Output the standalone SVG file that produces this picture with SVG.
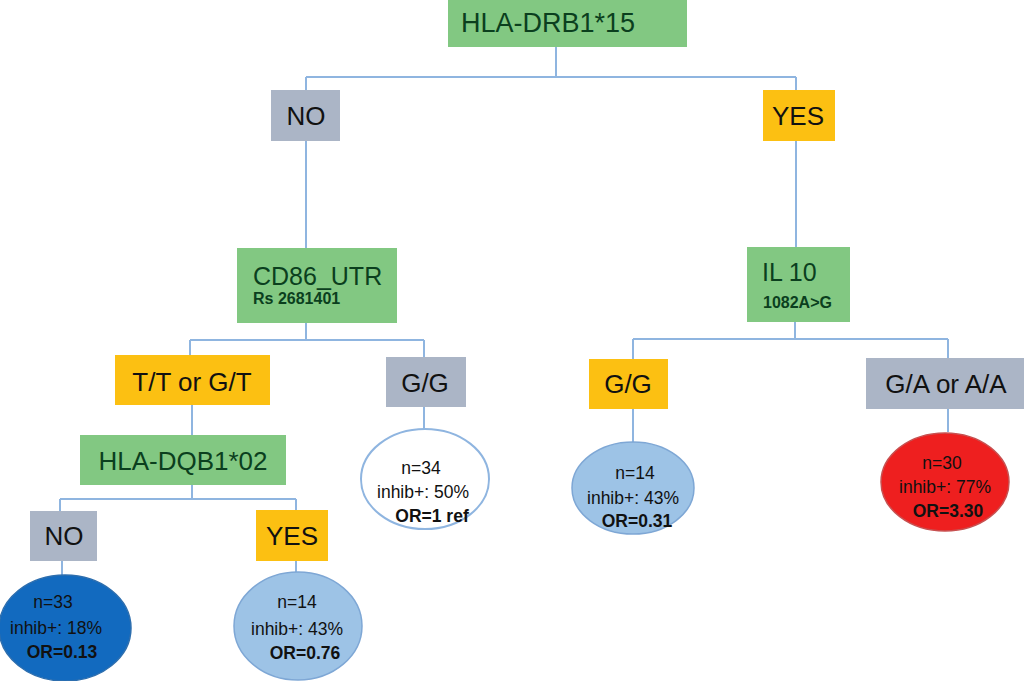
<svg xmlns="http://www.w3.org/2000/svg" width="1024" height="681" viewBox="0 0 1024 681">
<style>
.green{fill:#82c882}
.gray{fill:#abb5c6}
.yellow{fill:#fcc012}
.gt{font-family:"Liberation Sans",Arial,sans-serif;fill:#0b3f1e}
.sub{font-weight:bold;font-size:16px}
.bt{font-family:"Liberation Sans",Arial,sans-serif;fill:#111;font-size:26px}
.et{font-family:"Liberation Sans",Arial,sans-serif;fill:#111;font-size:17.5px;text-anchor:middle}
.eb{font-weight:bold}
.conn line{stroke:#8fb5e0;stroke-width:2;fill:none}
</style>
<rect width="1024" height="681" fill="#ffffff"/>
<g class="conn" id="connectors">
<line x1="556" y1="47" x2="556" y2="77"/>
<line x1="306" y1="77" x2="796" y2="77"/>
<line x1="306" y1="77" x2="306" y2="90"/>
<line x1="796" y1="77" x2="796" y2="90"/>
<line x1="306" y1="141" x2="306" y2="248"/>
<line x1="796" y1="141" x2="796" y2="247"/>
<line x1="306" y1="323" x2="306" y2="340"/>
<line x1="190" y1="340" x2="424" y2="340"/>
<line x1="190" y1="340" x2="190" y2="355"/>
<line x1="424" y1="340" x2="424" y2="357"/>
<line x1="795" y1="322" x2="795" y2="339"/>
<line x1="633" y1="339" x2="948" y2="339"/>
<line x1="633" y1="339" x2="633" y2="359"/>
<line x1="948" y1="339" x2="948" y2="358"/>
<line x1="192" y1="405" x2="192" y2="435"/>
<line x1="192" y1="485" x2="192" y2="499"/>
<line x1="60" y1="499" x2="296" y2="499"/>
<line x1="60" y1="499" x2="60" y2="511"/>
<line x1="296" y1="499" x2="296" y2="510"/>
<line x1="424" y1="407" x2="424" y2="430"/>
<line x1="633" y1="409" x2="633" y2="443"/>
<line x1="948" y1="409" x2="948" y2="432"/>
<line x1="62" y1="561" x2="62" y2="576"/>
<line x1="296" y1="561" x2="296" y2="572"/>
</g>
<g id="hla-drb1">
<rect class="green" x="448" y="0" width="239" height="47"/>
<text class="gt" x="548" y="32" font-size="27" text-anchor="middle">HLA-DRB1*15</text>
</g>
<g id="no-top">
<rect class="gray" x="271" y="90" width="69" height="51"/>
<text class="bt" x="306" y="125" text-anchor="middle" font-size="27">NO</text>
</g>
<g id="yes-top">
<rect class="yellow" x="763" y="90" width="72" height="51"/>
<text class="bt" x="798" y="125" text-anchor="middle" font-size="27">YES</text>
</g>
<g id="cd86">
<rect class="green" x="237" y="248" width="160" height="75"/>
<text class="gt" x="253" y="285" font-size="25">CD86_UTR</text>
<text class="gt sub" x="253" y="304">Rs 2681401</text>
</g>
<g id="il10">
<rect class="green" x="747" y="247" width="103" height="75"/>
<text class="gt" x="762" y="281" font-size="25">IL 10</text>
<text class="gt sub" x="763" y="308">1082A&gt;G</text>
</g>
<g id="tt-gt">
<rect class="yellow" x="115" y="355" width="155" height="50"/>
<text class="bt" x="192" y="391" text-anchor="middle">T/T or G/T</text>
</g>
<g id="gg-left">
<rect class="gray" x="386" y="357" width="80" height="50"/>
<text class="bt" x="425" y="392" text-anchor="middle">G/G</text>
</g>
<g id="gg-right">
<rect class="yellow" x="589" y="359" width="79" height="50"/>
<text class="bt" x="628" y="393" text-anchor="middle">G/G</text>
</g>
<g id="ga-aa">
<rect class="gray" x="866" y="358" width="158" height="51"/>
<text class="bt" x="946" y="393" text-anchor="middle" font-size="27">G/A or A/A</text>
</g>
<g id="hla-dqb1">
<rect class="green" x="80" y="435" width="206" height="50"/>
<text class="gt" x="183" y="470" font-size="26" text-anchor="middle">HLA-DQB1*02</text>
</g>
<g id="no-bottom">
<rect class="gray" x="30" y="511" width="67" height="50"/>
<text class="bt" x="64" y="545" text-anchor="middle">NO</text>
</g>
<g id="yes-bottom">
<rect class="yellow" x="256" y="510" width="72" height="51"/>
<text class="bt" x="292" y="545" text-anchor="middle">YES</text>
</g>
<g id="leaf-n34">
<ellipse cx="425" cy="479" rx="64" ry="50" fill="#ffffff" stroke="#8fb5e0" stroke-width="2"/>
<text class="et" x="421" y="474">n=34</text>
<text class="et" x="423" y="498">inhib+: 50%</text>
<text class="et eb" x="432" y="522">OR=1 ref</text>
</g>
<g id="leaf-n14-right">
<ellipse cx="633" cy="488" rx="61" ry="46" fill="#9dc3e6" stroke="#7ea7d5" stroke-width="1.5"/>
<text class="et" x="635" y="479">n=14</text>
<text class="et" x="633" y="504">inhib+: 43%</text>
<text class="et eb" x="637" y="527">OR=0.31</text>
</g>
<g id="leaf-n30">
<ellipse cx="945" cy="482" rx="64" ry="49" fill="#ee1f1f" stroke="#c85050" stroke-width="1.5"/>
<text class="et" x="942" y="469">n=30</text>
<text class="et" x="945" y="493">inhib+: 77%</text>
<text class="et eb" x="948" y="517">OR=3.30</text>
</g>
<g id="leaf-n33">
<ellipse cx="65" cy="628" rx="66" ry="53" fill="#126abf" stroke="#2d6eae" stroke-width="1.5"/>
<text class="et" x="53" y="608">n=33</text>
<text class="et" x="56" y="634">inhib+: 18%</text>
<text class="et eb" x="62" y="658">OR=0.13</text>
</g>
<g id="leaf-n14-left">
<ellipse cx="298" cy="626" rx="64" ry="54" fill="#9dc3e6" stroke="#7ea7d5" stroke-width="1.5"/>
<text class="et" x="297" y="608">n=14</text>
<text class="et" x="297" y="635">inhib+: 43%</text>
<text class="et eb" x="305" y="659">OR=0.76</text>
</g>
</svg>
